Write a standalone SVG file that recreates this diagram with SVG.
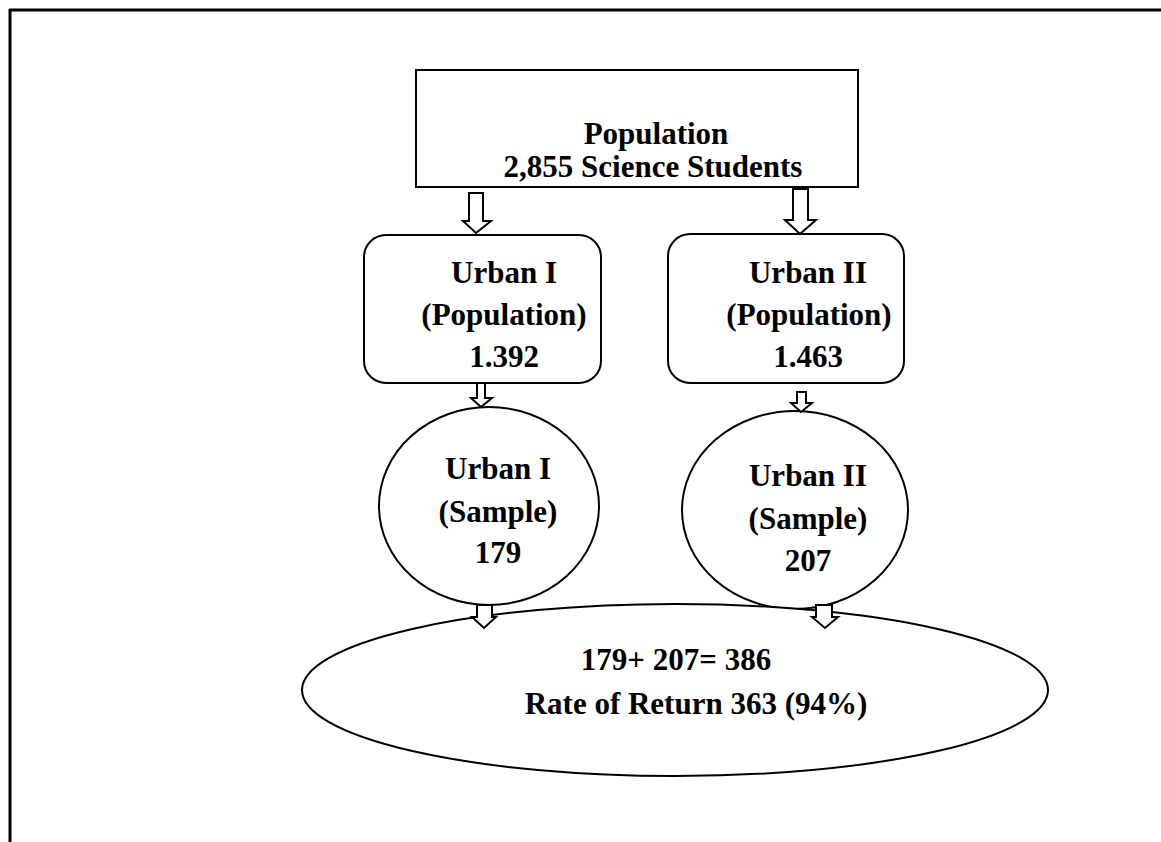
<svg xmlns="http://www.w3.org/2000/svg" width="1161" height="842" viewBox="0 0 1161 842">
<style>
.s{fill:#fff;stroke:#000;stroke-width:2}
.a{fill:#fff;stroke:#000;stroke-width:2;stroke-linejoin:miter}
text{font-family:"Liberation Serif","Times New Roman",serif;font-weight:bold;font-size:31px;fill:#000;text-anchor:middle}
</style>
<rect width="1161" height="842" fill="#fff"/>
<g id="frame">
<line x1="9" y1="10" x2="1161" y2="10" stroke="#000" stroke-width="3"/>
<line x1="10" y1="9" x2="10" y2="842" stroke="#000" stroke-width="3"/>
</g>
<g id="population">
<rect class="s" x="416" y="70" width="442" height="117"/>
<text x="656" y="144">Population</text>
<text x="653" y="177">2,855 Science Students</text>
</g>
<g id="urban1pop">
<rect class="s" x="364" y="235" width="237" height="148" rx="22"/>
<text x="504" y="283">Urban I</text>
<text x="504" y="325">(Population)</text>
<text x="504" y="367">1.392</text>
</g>
<g id="urban2pop">
<rect class="s" x="668" y="234" width="236" height="149" rx="22"/>
<text x="808" y="283">Urban II</text>
<text x="809" y="325">(Population)</text>
<text x="808" y="367">1.463</text>
</g>
<g id="urban1sample">
<ellipse class="s" cx="489" cy="506" rx="110" ry="99"/>
<text x="498" y="479">Urban I</text>
<text x="498" y="522">(Sample)</text>
<text x="498" y="563">179</text>
</g>
<g id="urban2sample">
<ellipse class="s" cx="795" cy="510" rx="113" ry="99"/>
<text x="808" y="486">Urban II</text>
<text x="808" y="529">(Sample)</text>
<text x="808" y="571">207</text>
</g>
<g id="total">
<ellipse class="s" cx="675" cy="690" rx="373" ry="86"/>
<text x="676" y="670">179+ 207= 386</text>
<text x="696" y="714">Rate of Return 363 (94%)</text>
</g>
<g id="connectors">
<polygon class="a" points="469,193 483,193 483,221 491,221 476,233 463,221 469,221"/>
<polygon class="a" points="793,189 808,189 808,220 816,220 800,234 785,220 793,220"/>
<polygon class="a" points="477,383 485,383 485,398 492,398 481,407 471,398 477,398"/>
<polygon class="a" points="797,392 806,392 806,403 812,403 801,412 791,403 797,403"/>
<polygon class="a" points="477,605 492,605 492,617 496,617 484,628 472,617 477,617"/>
<polygon class="a" points="816,605 832,605 832,617 838,617 825,628 812,617 816,617"/>
</g>
</svg>
